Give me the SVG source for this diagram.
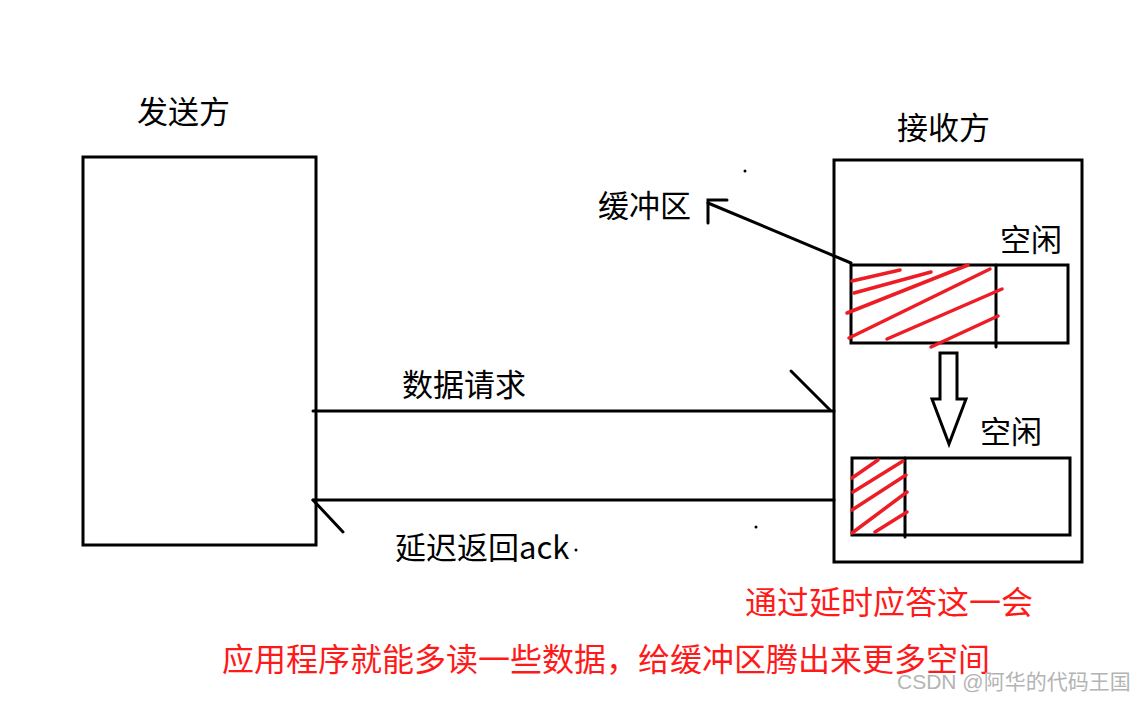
<svg xmlns="http://www.w3.org/2000/svg" width="1137" height="701" viewBox="0 0 1137 701">
<style>
.box{fill:none;stroke:#000;stroke-width:3}
.ln{fill:none;stroke:#000;stroke-width:3;stroke-linecap:round}
.hatch{fill:none;stroke:#ee1c24;stroke-width:3.5;stroke-linecap:round}
.t{font-family:"Microsoft YaHei","Noto Sans CJK SC","Noto Sans",sans-serif;font-size:31px;fill:#000}
.r{fill:#ff1a1a;font-size:32px}
.wm{font-family:"Liberation Sans","Noto Sans CJK SC",sans-serif;font-size:21px;fill:#b4b4b4}
</style>
<rect width="1137" height="701" fill="#fff"/>
<g id="sender">
<rect class="box" x="83" y="157" width="233" height="388"/>
<text class="t" x="137" y="123">发送方</text>
</g>
<g id="receiver">
<rect class="box" x="834" y="160" width="248" height="402"/>
<text class="t" x="897" y="139">接收方</text>
</g>
<g id="buffer-top">
<rect class="box" x="851" y="265" width="217" height="78"/>
<line class="ln" x1="996" y1="265" x2="996" y2="347"/>
<line class="hatch" x1="852" y1="281" x2="900" y2="270"/>
<line class="hatch" x1="854" y1="293" x2="931" y2="272"/>
<line class="hatch" x1="847" y1="313" x2="968" y2="265"/>
<line class="hatch" x1="849" y1="338" x2="990" y2="269"/>
<line class="hatch" x1="887" y1="339" x2="1002" y2="289"/>
<line class="hatch" x1="931" y1="347" x2="998" y2="316"/>
<text class="t" x="1000" y="251">空闲</text>
</g>
<g id="buffer-bottom">
<rect class="box" x="852" y="458" width="218" height="77"/>
<line class="ln" x1="905" y1="458" x2="905" y2="537"/>
<line class="hatch" x1="852" y1="478" x2="878" y2="460"/>
<line class="hatch" x1="853" y1="492" x2="903" y2="461"/>
<line class="hatch" x1="852" y1="510" x2="906" y2="475"/>
<line class="hatch" x1="852" y1="533" x2="907" y2="492"/>
<line class="hatch" x1="875" y1="532" x2="907" y2="512"/>
<text class="t" x="980" y="443">空闲</text>
</g>
<g id="buffer-label">
<text class="t" x="598" y="217">缓冲区</text>
</g>
<g id="down-arrow">
<path class="box" d="M940,353 H957 V399 H966 L949,444 L932,399 H940 Z" stroke-linejoin="miter"/>
</g>
<g id="connectors">
<line class="ln" x1="851" y1="263" x2="708" y2="203"/>
<polyline class="ln" points="727,200 708,200 708,223"/>
<line class="ln" x1="313" y1="411" x2="834" y2="411"/>
<line class="ln" x1="791" y1="371" x2="830" y2="410"/>
<line class="ln" x1="313" y1="500" x2="834" y2="500"/>
<line class="ln" x1="313" y1="500" x2="343" y2="532"/>
</g>
<g id="labels">
<text class="t" x="402" y="396">数据请求</text>
<text class="t" x="395" y="559">延迟返回ack</text>
<circle cx="576" cy="550" r="1.5"/>
<circle cx="745" cy="171" r="1.5"/>
<circle cx="756" cy="527" r="1.5"/>
<text class="t r" x="745" y="614">通过延时应答这一会</text>
<text class="t r" x="222" y="671">应用程序就能多读一些数据，给缓冲区腾出来更多空间</text>
<text class="wm" x="897" y="689">CSDN @阿华的代码王国</text>
</g>
</svg>
